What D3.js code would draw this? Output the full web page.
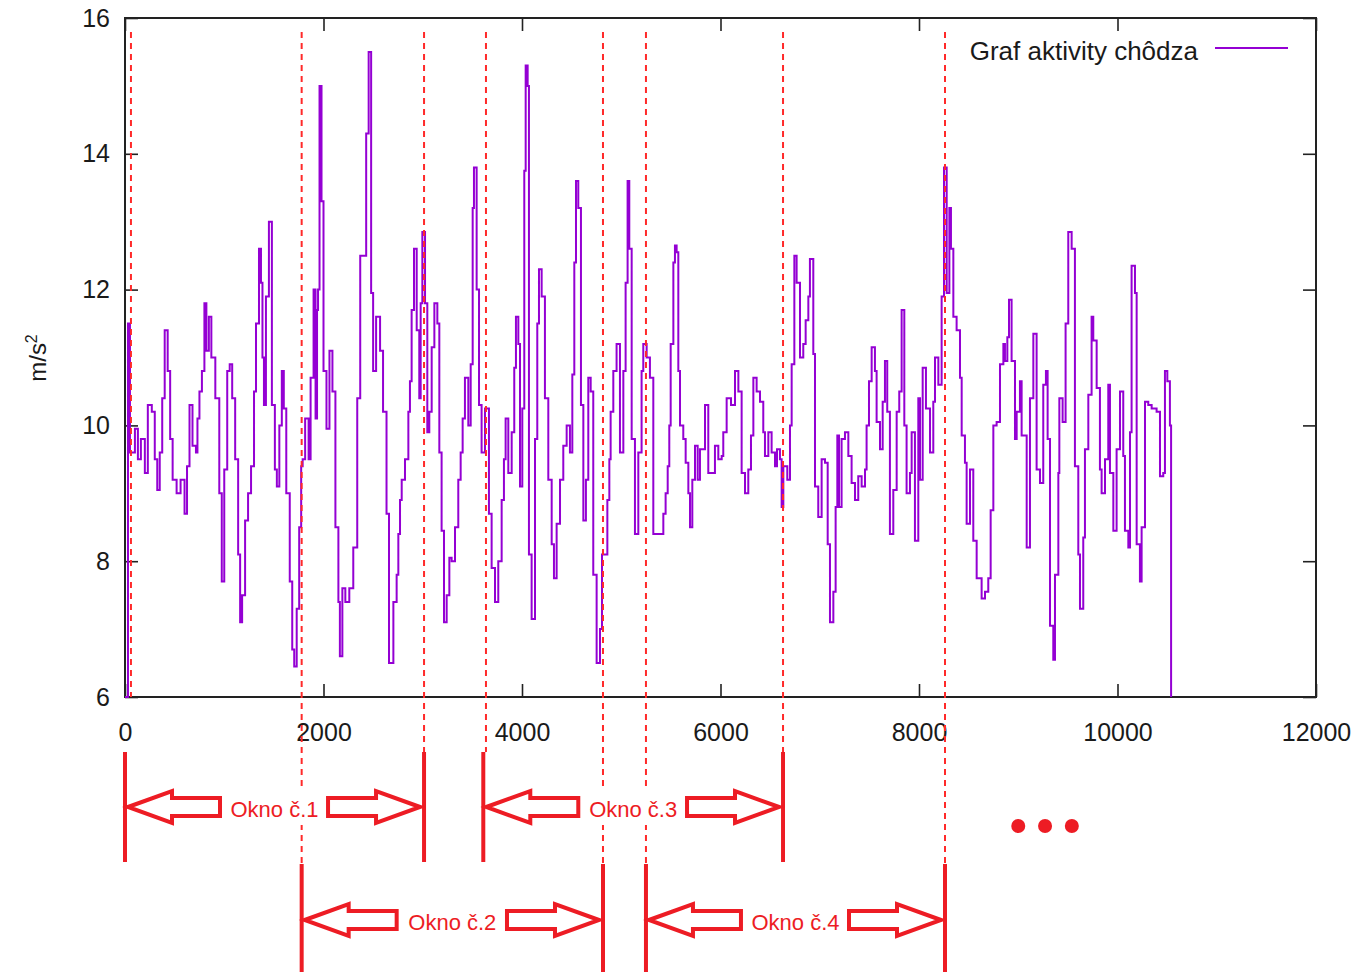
<!DOCTYPE html>
<html>
  <head>
    <meta charset="utf-8">
    <title>Graf aktivity chôdza</title>
    <script src="https://d3js.org/d3.v7.min.js"></script>
    <style>
      body { margin: 0; background: #fff; }
      text { font-family: "Liberation Sans", Arial, sans-serif; }
    </style>
  </head>
  <body>
    <script>
      // sample index (x) and acceleration magnitude (y)
      var sampleIdx = [
        0,30,50,100,130,160,200,230,270,300,325,350,375,400,430,455,480,520,560,600,
        625,650,680,715,730,750,775,800,820,845,870,910,950,975,1000,1030,1055,1080,1110,1140,
        1160,1180,1210,1240,1270,1300,1320,1350,1370,1385,1400,1420,1450,1480,1510,1530,1555,1580,1600,1625,
        1660,1685,1705,1730,1755,1775,1790,1815,1850,1870,1900,1920,1935,1945,1960,1980,2000,2030,2060,2090,
        2120,2150,2165,2190,2220,2260,2300,2340,2370,2430,2455,2480,2500,2530,2570,2600,2635,2660,
        2704,2737,2754,2771,2788,2821,2855,2871,2888,2912,2939,2965,2979,2996,3023,3046,3066,3090,3117,3147,
        3167,3190,3214,3241,3268,3291,3325,3358,3382,3402,3425,3459,3483,3503,3516,3543,3567,3593,3627,3667,
        3694,3728,3761,3795,3818,3835,3862,3896,3922,3939,3963,3980,4003,4023,4037,4057,4070,4097,4131,4154,
        4171,4198,4231,4265,4299,4322,4349,4383,4416,4450,4483,4507,4527,4544,4567,4594,4618,4644,4668,4692,
        4718,4752,4786,4806,4860,4880,4893,4920,4953,4987,5021,5044,5064,5081,5105,5138,5172,5205,5222,5256,
        5289,5323,5390,5424,5447,5468,5484,5498,5525,5541,5558,5575,5592,5625,5649,5676,5693,5716,5743,5770,
        5793,5844,5877,5944,5978,6012,6028,6062,6106,6146,6180,6213,6247,6280,6307,6331,6364,6398,6431,6448,
        6482,6515,6549,6569,6599,6616,6633,6673,6700,6717,6744,6767,6801,6834,6858,6885,6901,6935,6952,6985,
        7019,7053,7080,7103,7137,7160,7177,7194,7220,7254,7288,7321,7355,7388,7422,7456,7472,7496,7523,7556,
        7573,7607,7634,7657,7680,7707,7741,7775,7801,7825,7852,7875,7909,7926,7959,7993,
        8010,8037,8070,8111,8144,8161,8195,8228,8252,8279,8306,8322,8346,8379,8413,8430,8463,8480,8514,8547,
        8581,8631,8665,8698,8722,8749,8782,8816,8850,8866,8890,8907,8933,8967,8984,9017,9034,9085,9118,9152,
        9185,9219,9252,9279,9296,9320,9353,9370,9404,9414,9447,9477,9504,9538,9571,9605,9622,9655,9672,9706,
        9739,9756,9790,9823,9840,9874,9907,9924,9958,9991,10025,10058,10075,10109,10126,10142,10176,10193,10226,10243,
        10277,10310,10344,10394,10428,10461,10478,10502,10528,10540
      ];
      var accel = [
        6.0,11.5,9.6,9.95,9.5,9.8,9.3,10.3,10.2,9.5,9.05,9.6,10.4,11.4,10.8,9.8,9.2,9.0,9.2,8.7,
        9.4,10.3,9.7,9.6,10.1,10.5,10.8,11.8,11.1,11.6,11.0,10.4,9.0,7.7,9.35,10.8,10.9,10.4,9.5,8.1,
        7.1,7.5,8.6,9.0,9.4,10.5,11.5,12.6,12.1,11.0,10.3,11.9,13.0,10.3,9.35,9.1,10.0,10.8,10.25,9.0,
        7.7,6.7,6.45,7.3,8.5,9.4,9.5,10.1,9.5,10.7,12.0,10.1,11.7,12.0,15.0,13.3,10.8,9.95,11.1,10.5,
        8.5,7.4,6.6,7.6,7.4,7.6,8.2,10.4,12.5,14.3,15.5,11.95,10.8,11.6,11.1,10.2,8.7,6.5,
        7.4,7.8,8.4,8.9,9.2,9.5,10.2,10.65,11.7,12.6,11.4,10.4,11.8,12.85,11.8,9.9,10.2,11.15,11.8,11.5,
        9.6,8.45,7.1,7.5,8.05,8.0,8.5,9.2,9.6,10.1,10.7,10.0,10.9,13.2,13.8,12.0,10.3,9.6,10.25,8.7,
        7.9,7.4,8.0,8.9,9.5,10.1,9.3,9.9,10.85,11.6,11.2,9.1,10.25,13.75,15.3,15.0,8.1,7.15,9.8,11.5,
        12.3,11.9,10.4,9.2,8.25,7.75,8.55,9.2,9.7,10.0,9.6,10.75,12.4,13.6,13.2,10.3,8.6,9.2,10.7,10.5,
        7.8,6.5,7.0,8.1,8.9,9.5,10.2,10.8,11.2,9.6,10.8,12.1,13.6,12.6,9.8,8.4,9.6,10.8,11.2,11.0,
        10.7,8.4,8.4,8.7,9.0,9.4,10.0,11.2,12.4,12.65,12.55,10.8,10.0,9.8,9.45,9.0,8.5,9.2,9.7,9.2,
        9.65,10.3,9.3,9.7,9.5,9.55,9.9,10.4,10.3,10.8,10.5,9.3,9.0,9.35,9.85,10.7,10.5,10.35,9.9,9.55,
        9.9,9.6,9.4,9.65,9.5,8.8,9.4,9.2,10.0,10.9,12.5,12.1,11.0,11.2,11.55,11.9,12.45,11.05,9.1,8.65,
        9.5,9.45,8.25,7.1,7.55,8.8,9.85,8.8,9.8,9.9,9.55,9.15,8.9,9.25,9.1,9.35,10.0,10.65,11.15,10.8,
        10.05,9.65,10.35,10.95,10.2,8.4,9.05,10.2,10.5,11.7,10.0,9.0,9.3,9.9,8.3,10.4,
        9.2,10.85,10.25,9.6,10.35,11.0,10.6,11.9,13.8,11.95,13.2,12.6,11.6,11.4,10.7,9.85,9.45,8.55,9.35,8.3,
        7.75,7.45,7.55,7.75,8.75,10.0,10.05,10.9,11.2,10.95,11.3,11.85,10.95,9.8,10.2,10.65,9.85,8.2,10.4,11.35,
        9.35,9.15,10.6,10.8,9.8,7.05,6.55,7.8,9.3,10.4,10.05,11.5,12.85,12.6,9.4,8.1,7.3,8.35,9.65,10.45,
        11.6,11.25,10.55,9.35,9.0,9.5,10.6,9.3,8.45,9.65,10.5,9.55,8.45,8.2,9.9,12.35,11.95,8.25,7.7,8.5,
        10.35,10.3,10.25,10.2,9.25,9.3,10.8,10.65,10.0,6.0
      ];

      // axis ticks
      var xTicks = [0, 2000, 4000, 6000, 8000, 10000, 12000];
      var yTicks = [6, 8, 10, 12, 14, 16];

      // window boundaries (sample index) drawn under the plot
      var cutLines = [60, 1780, 3013, 3637, 4816, 5249, 6630, 8262];
      var winStart = [0, 1780, 3610, 5249];
      var winEnd = [3013, 4816, 6630, 8262];
      var winLabel = ["Okno č.1", "Okno č.2", "Okno č.3", "Okno č.4"];
      var moreDots = [9000, 9270, 9540];

      var seriesName = "Graf aktivity chôdza";

      var W = 1371, H = 972;
      var plot = {left: 125, right: 1316, top: 18, bottom: 697};
      var purple = "#9400d3";
      var paintRed = "#ed1c24";

      var svg = d3.select("body").append("svg")
        .attr("width", W)
        .attr("height", H);

      var x = d3.scaleLinear().domain([0, 12000]).range([plot.left, plot.right]);
      var y = d3.scaleLinear().domain([6, 16]).range([plot.bottom, plot.top]);

      // axes with ticks pointing inward, mirrored on top/right
      var tickLen = 13;
      function styleAxis(g) {
        g.select(".domain").remove();
        g.selectAll(".tick line").attr("stroke", "#222").attr("stroke-width", 1.6);
        g.selectAll(".tick text").attr("fill", "#1a1a1a").style("font-size", "25px")
          .style("font-family", "'Liberation Sans', Arial, sans-serif");
      }

      // red dashed cut lines go first so the annotation sits on top
      var rowTop = [752, 864], rowBot = [862, 975], rowMid = [807, 920];

      function rowOfCut(c) {
        for (var w = 0; w < winStart.length; w++) {
          if (Math.abs(winStart[w] - c) < 40 || Math.abs(winEnd[w] - c) < 40) return w % 2;
        }
        return -1;
      }

      svg.append("g")
        .attr("transform", "translate(0," + plot.bottom + ")")
        .call(d3.axisBottom(x).tickValues(xTicks).tickSize(-tickLen).tickPadding(26).tickFormat(d3.format("d")))
        .call(styleAxis);
      svg.append("g")
        .attr("transform", "translate(0," + plot.top + ")")
        .call(d3.axisTop(x).tickValues(xTicks).tickSize(-tickLen).tickFormat(""))
        .call(styleAxis);
      svg.append("g")
        .attr("transform", "translate(" + plot.left + ",0)")
        .call(d3.axisLeft(y).tickValues(yTicks).tickSize(-tickLen).tickPadding(15))
        .call(styleAxis);
      svg.append("g")
        .attr("transform", "translate(" + plot.right + ",0)")
        .call(d3.axisRight(y).tickValues(yTicks).tickSize(-tickLen).tickFormat(""))
        .call(styleAxis);

      // border
      svg.append("rect")
        .attr("x", plot.left).attr("y", plot.top)
        .attr("width", plot.right - plot.left).attr("height", plot.bottom - plot.top)
        .attr("fill", "none").attr("stroke", "#222").attr("stroke-width", 2);

      // y label m/s^2
      var yl = svg.append("text")
        .attr("transform", "translate(46,358) rotate(-90)")
        .attr("text-anchor", "middle")
        .attr("fill", "#1a1a1a")
        .style("font-size", "24px");
      yl.append("tspan").text("m/s");
      yl.append("tspan").attr("dy", -9).style("font-size", "16px").text("2");

      // the signal, step-like
      var pts = sampleIdx.map(function(d, i) { return {i: d, v: accel[i]}; });
      var line = d3.line()
        .x(function(d) { return x(d.i); })
        .y(function(d) { return y(d.v); })
        .curve(d3.curveStepAfter);

      svg.append("path")
        .datum(pts)
        .attr("d", line)
        .attr("fill", "none")
        .attr("stroke", purple)
        .attr("stroke-width", 2)
        .attr("stroke-linejoin", "miter");

      // legend
      svg.append("text")
        .attr("x", 1198).attr("y", 60)
        .attr("text-anchor", "end")
        .attr("fill", "#1a1a1a")
        .style("font-size", "26px")
        .text(seriesName);
      svg.append("line")
        .attr("x1", 1215).attr("x2", 1288)
        .attr("y1", 48).attr("y2", 48)
        .attr("stroke", purple).attr("stroke-width", 2);

      svg.selectAll(".cut")
        .data(cutLines)
        .enter()
        .append("line")
        .attr("class", "cut")
        .attr("x1", function(d) { return x(d); })
        .attr("x2", function(d) { return x(d); })
        .attr("y1", 32)
        .attr("y2", function(d) {
          var r = rowOfCut(d);
          return r < 0 ? plot.bottom : rowTop[r];
        })
        .attr("stroke", "#ff2a2a")
        .attr("stroke-width", 2)
        .attr("stroke-dasharray", "6,5");

      // block arrow outline, tip at tx pointing dir (-1 left, +1 right)
      function arrowPath(tx, cy, dir, len) {
        var head = 44, hh = 16, sh = 9;
        var hb = tx - dir * head, back = tx - dir * len;
        return "M" + tx + "," + cy +
          "L" + hb + "," + (cy - hh) +
          "L" + hb + "," + (cy - sh) +
          "L" + back + "," + (cy - sh) +
          "L" + back + "," + (cy + sh) +
          "L" + hb + "," + (cy + sh) +
          "L" + hb + "," + (cy + hh) + "Z";
      }

      winStart.forEach(function(s, w) {
        var r = w % 2;
        var x0 = x(s), x1 = x(winEnd[w]);
        var cx = (x0 + x1) / 2;
        var g = svg.append("g").attr("class", "window");
        // white patch behind the label hides the cut lines there
        g.append("rect")
          .attr("x", cx - 52).attr("y", rowMid[r] - 16)
          .attr("width", 104).attr("height", 34)
          .attr("fill", "#fff");
        [x0, x1].forEach(function(bx) {
          g.append("line")
            .attr("x1", bx).attr("x2", bx)
            .attr("y1", rowTop[r]).attr("y2", rowBot[r])
            .attr("stroke", paintRed).attr("stroke-width", 4);
        });
        g.append("path")
          .attr("d", arrowPath(x0 + 3, rowMid[r], -1, 92))
          .attr("fill", "#fff").attr("stroke", paintRed).attr("stroke-width", 4);
        g.append("path")
          .attr("d", arrowPath(x1 - 4, rowMid[r], 1, 92))
          .attr("fill", "#fff").attr("stroke", paintRed).attr("stroke-width", 4);
        g.append("text")
          .attr("x", cx)
          .attr("y", rowMid[r] + 2)
          .attr("text-anchor", "middle")
          .attr("dominant-baseline", "central")
          .attr("fill", paintRed)
          .style("font-size", "22px")
          .text(winLabel[w]);
      });

      // "..." more windows follow
      svg.selectAll(".dot")
        .data(moreDots)
        .enter()
        .append("circle")
        .attr("class", "dot")
        .attr("cx", function(d) { return x(d); })
        .attr("cy", 826)
        .attr("r", 7)
        .attr("fill", paintRed);
    </script>
  </body>
</html>
